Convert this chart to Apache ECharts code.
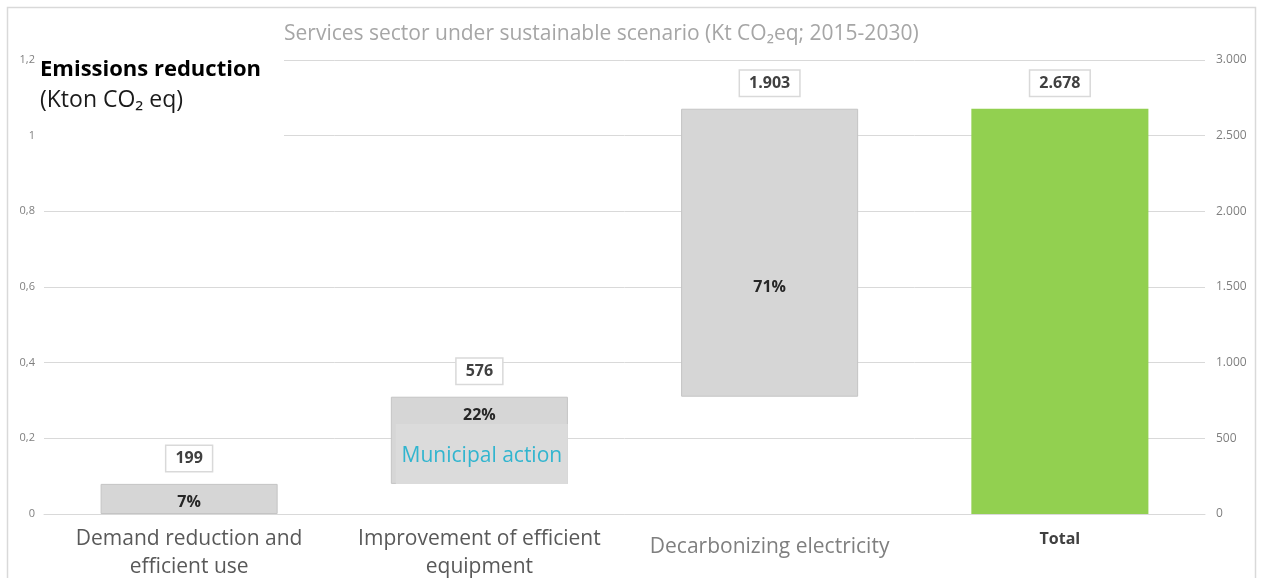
<!DOCTYPE html>
<html>
<head>
<meta charset="utf-8">
<script src="https://cdn.jsdelivr.net/npm/echarts@6/dist/echarts.min.js"></script>
<style>
  html, body { margin: 0; padding: 0; background: #fff; }
  #chart { width: 1261px; height: 578px; }
</style>
</head>
<body>
<div id="chart"></div>
<script>
// Services sector emissions reduction waterfall (Kt CO2eq, 2015-2030)
const categories = ['Demand reduction and\nefficient use', 'Improvement of efficient\nequipment', 'Decarbonizing electricity', 'Total'];
const reductions = [199, 576, 1903];   // step contributions
const totalReduction = 2678;           // total bar
const sharePercents = [7, 22, 71];     // share of each step in the total

const FONT = "'Open Sans', 'Noto Sans', sans-serif";
const GRAY = '#d6d6d6';
const GREEN = '#92d050';

// waterfall helpers built from the values above
const stepValues = reductions.concat([totalReduction]);
const bases = [];
const tops = [];
let run = 0;
reductions.forEach(v => { bases.push(run); run += v; tops.push(run); });
bases.push(0);
tops.push(totalReduction);

const fmtThousands = v => String(v).replace(/\B(?=(\d{3})+(?!\d))/g, '.');
const fmtComma = v => String(Math.round(v * 10) / 10).replace('.', ',');

const catStyles = [
  { color: '#595959', fontSize: 21 },
  { color: '#595959', fontSize: 21 },
  { color: '#7f7f7f', fontSize: 21, padding: [8, 0, 0, 0] },
  { color: '#404040', fontSize: 16, fontWeight: 'bold' }
];

const GRID = { left: 44, right: 56, top: 60, bottom: 64 };

const chart = echarts.init(document.getElementById('chart'));

const option = {
  animation: false,
  textStyle: { fontFamily: FONT },
  title: {
    text: 'Services sector under sustainable scenario (Kt CO₂eq; 2015-2030)',
    left: 284,
    top: 24,
    padding: 0,
    textStyle: { color: '#a6a6a6', fontSize: 21, fontWeight: 'normal', fontFamily: FONT }
  },
  grid: Object.assign({ outerBoundsMode: 'none', containLabel: false }, GRID),
  xAxis: {
    type: 'category',
    data: categories.map((c, i) => ({ value: c, textStyle: catStyles[i] })),
    axisLine: { lineStyle: { color: '#d9d9d9' } },
    axisTick: { show: false },
    axisLabel: { interval: 0, margin: 11, lineHeight: 28, fontFamily: FONT }
  },
  yAxis: [
    {
      type: 'value',
      min: 0, max: 1.2, interval: 0.2,
      position: 'left',
      axisLine: { show: false },
      axisTick: { show: false },
      splitLine: { show: true, lineStyle: { color: '#d9d9d9' } },
      axisLabel: { color: '#7f7f7f', fontSize: 11, margin: 9, formatter: fmtComma, fontFamily: FONT }
    },
    {
      type: 'value',
      min: 0, max: 3000, interval: 500,
      position: 'right',
      axisLine: { show: false },
      axisTick: { show: false },
      splitLine: { show: false },
      axisLabel: { color: '#7f7f7f', fontSize: 12, margin: 11, formatter: fmtThousands, fontFamily: FONT }
    }
  ],
  series: [
    {
      name: 'base',
      type: 'bar',
      stack: 'waterfall',
      yAxisIndex: 1,
      barWidth: '61%',
      barGap: '-100%',
      silent: true,
      itemStyle: { color: 'transparent' },
      data: bases
    },
    {
      name: 'reduction',
      type: 'bar',
      stack: 'waterfall',
      yAxisIndex: 1,
      barWidth: '61%',
      barGap: '-100%',
      z: 3,
      data: stepValues.map((v, i) => {
        const isTotal = i === stepValues.length - 1;
        const item = {
          value: v,
          itemStyle: isTotal
            ? { color: GREEN }
            : { color: GRAY, borderColor: '#c4c4c4', borderWidth: 1 }
        };
        if (!isTotal) {
          const big = i === 2;
          item.label = {
            show: true,
            position: big ? 'inside' : 'insideTop',
            distance: 11,
            offset: big ? [0, 35] : [0, 0],
            formatter: sharePercents[i] + '%',
            color: '#262626',
            fontSize: 16,
            fontWeight: 'bold',
            fontFamily: FONT
          };
        }
        return item;
      })
    },
    {
      name: 'value',
      type: 'bar',
      yAxisIndex: 1,
      barWidth: '61%',
      barGap: '-100%',
      silent: true,
      z: 1,
      itemStyle: { color: 'transparent' },
      label: {
        show: true,
        position: 'top',
        distance: 13,
        formatter: p => fmtThousands(stepValues[p.dataIndex]),
        color: '#404040',
        fontSize: 16,
        fontWeight: 'bold',
        fontFamily: FONT,
        backgroundColor: '#ffffff',
        borderColor: '#d9d9d9',
        borderWidth: 1.5,
        padding: [5, 9, 4, 9]
      },
      data: tops
    }
  ]
};

chart.setOption(option);

// overlay annotations: frame, axis caption and the municipal action box
const barPx = 0.61 * (chart.getWidth() - GRID.left - GRID.right) / categories.length;
const base1 = chart.convertToPixel({ seriesIndex: 1 }, [1, bases[1]]);
const boxLeft = base1[0] - barPx / 2 + 5;
const boxRight = base1[0] + barPx / 2;

chart.setOption({
  graphic: [
    {
      type: 'rect',
      shape: { x: 7.5, y: 7.5, width: 1248, height: 600 },
      style: { fill: 'none', stroke: '#d9d9d9', lineWidth: 1.5 },
      silent: true
    },
    {
      type: 'rect',
      shape: { x: 38, y: 47, width: 246, height: 100 },
      style: { fill: '#ffffff' },
      z: 10,
      silent: true
    },
    {
      type: 'text',
      left: 40, top: 59,
      z: 11,
      style: { text: 'Emissions reduction', font: 'bold 22px ' + FONT, fill: '#000000' }
    },
    {
      type: 'text',
      left: 40, top: 89,
      z: 11,
      style: { text: '(Kton CO₂ eq)', font: '23px ' + FONT, fill: '#1a1a1a' }
    },
    {
      type: 'rect',
      shape: { x: boxLeft, y: base1[1] - 60, width: boxRight - boxLeft, height: 60 },
      style: { fill: '#dbdbdb' },
      z: 10,
      silent: true
    },
    {
      type: 'text',
      x: (boxLeft + boxRight) / 2,
      y: base1[1] - 28,
      z: 11,
      style: {
        text: 'Municipal action',
        font: '21px ' + FONT,
        fill: '#31b5cf',
        align: 'center',
        verticalAlign: 'middle'
      }
    }
  ]
});
</script>
</body>
</html>
